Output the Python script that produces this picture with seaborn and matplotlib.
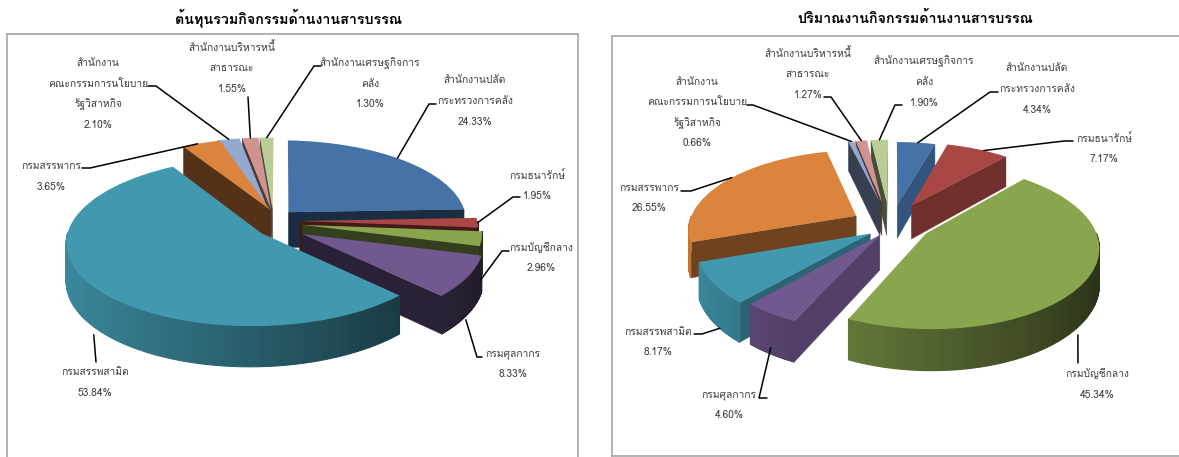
import numpy as np
import matplotlib
matplotlib.use("Agg")
import matplotlib.pyplot as plt
from matplotlib.transforms import Transform
import matplotlib.colors as mc
import seaborn as sns

# ---------- data ----------
categories = ["สำนักงานปลัด\nกระทรวงการคลัง", "กรมธนารักษ์", "กรมบัญชีกลาง", "กรมศุลกากร", "กรมสรรพสามิต",
              "กรมสรรพากร", "สำนักงาน\nคณะกรรมการนโยบาย\nรัฐวิสาหกิจ", "สำนักงานบริหารหนี้\nสาธารณะ",
              "สำนักงานเศรษฐกิจการ\nคลัง"]
cost_share = [24.33, 1.95, 2.96, 8.33, 53.84, 3.65, 2.10, 1.55, 1.30]
volume_share = [4.34, 7.17, 45.34, 4.60, 8.17, 26.55, 0.66, 1.27, 1.90]
titles = ["ต้นทุนรวมกิจกรรมด้านงานสารบรรณ", "ปริมาณงานกิจกรรมด้านงานสารบรรณ"]

# ---------- style / layout ----------
W, H = 1179, 457
sns.set_theme(style="white")
palette = sns.color_palette(["#4572A7", "#AA4643", "#89A54E", "#71588F", "#4198AF",
                             "#DB843D", "#93A9CF", "#D19392", "#B9CD96"])
plt.rcParams['font.family'] = ['Loma', 'Noto Sans Thai', 'DejaVu Sans']


class Ground(Transform):
    input_dims = output_dims = 2
    def __init__(self, cx, cy, R, sq, k, kx, depth, h=0.0):
        super().__init__()
        self.p = (cx, cy, R, sq, k, kx, depth)
        self.h = h
    def transform_non_affine(self, pts):
        cx, cy, R, sq, k, kx, depth = self.p
        pts = np.asarray(pts, float)
        s = 1 / (1 + k * pts[:, 1] + kx * pts[:, 0])
        return np.column_stack([cx + R * pts[:, 0] * s,
                                cy - R * sq * pts[:, 1] * s + depth * self.h * s])


def shade(c, f):
    return tuple(np.clip(np.array(mc.to_rgb(c)) * f, 0, 1))


def draw_panel(box, values, title, title_xy, geom, explode, nudge, labels_xy, leads):
    x0, y0, x1, y1 = box
    ax = fig.add_axes([x0 / W, 1 - y1 / H, (x1 - x0) / W, (y1 - y0) / H])
    wedges, _ = ax.pie(values, explode=explode, colors=palette, startangle=90, counterclock=False,
                       radius=1, frame=True, wedgeprops=dict(linewidth=0))
    ax.set_aspect('auto')
    ax.set_xlim(x0, x1)
    ax.set_ylim(y1, y0)
    ax.set_xticks([]); ax.set_yticks([])
    for s in ax.spines.values():
        s.set_visible(True); s.set_color("#a6a6a6"); s.set_linewidth(1.2)
    top = Ground(*geom, h=0)
    bot = Ground(*geom, h=1)
    for w, n in zip(wedges, nudge):
        w.set_center((w.center[0] + n[0], w.center[1] + n[1]))
    order = sorted(range(len(wedges)), key=lambda i: -(wedges[i].center[1] + np.sin(np.radians((wedges[i].theta1 + wedges[i].theta2) / 2)) * .5))
    for rank, i in enumerate(order):
        w = wedges[i]
        col = palette[i]
        z = 10 + rank * 3
        c = np.array(w.center)
        for th, sgn in ((w.theta1, -1), (w.theta2, 1)):
            na = np.radians(th + sgn * 90)
            nx, ny = np.cos(na), np.sin(na)
            if ny < 0:
                e = c + w.r * np.array([np.cos(np.radians(th)), np.sin(np.radians(th))])
                g = np.array([c, e])
                a, b = top.transform_non_affine(g), bot.transform_non_affine(g)
                poly = np.vstack([a, b[::-1]])
                ax.fill(poly[:, 0], poly[:, 1], color=shade(col, .38 + .38 * max(nx, 0)), lw=.3, zorder=z)
        ths = np.radians(np.linspace(w.theta1, w.theta2, 160))
        for t0, t1 in zip(ths[:-1], ths[1:]):
            tm = (t0 + t1) / 2
            if np.sin(tm) < 0:
                g = c + w.r * np.array([[np.cos(t0), np.sin(t0)], [np.cos(t1), np.sin(t1)]])
                a, b = top.transform_non_affine(g), bot.transform_non_affine(g)
                poly = np.vstack([a, b[::-1]])
                f = shade(col, .6 - .3 * np.cos(tm))
                ax.fill(poly[:, 0], poly[:, 1], facecolor=f, edgecolor=f, lw=.8, zorder=z + 1)
        w.set_transform(top + ax.transData)
        w.set_zorder(z + 2)
    for i, (lx, ly, dy) in enumerate(labels_xy):
        pct = f"{values[i]:.2f}%"
        lines = categories[i].split("\n") + [pct]
        for j, t in enumerate(lines):
            ax.text(lx, ly + j * dy, t, ha="center", va="center", fontsize=7.4, color="#3a3a3a", zorder=100)
    for i, (sx, ex, ey, frac, h) in enumerate(leads):
        w = wedges[i]
        th = np.radians(w.theta2 - frac * (w.theta2 - w.theta1))
        g = np.array([w.center]) + w.r * np.array([[np.cos(th), np.sin(th)]])
        p = Ground(*geom, h=h).transform_non_affine(g)[0]
        ax.plot([sx, ex, p[0]], [ey, ey, p[1]], color="black", lw=1.1, zorder=90, solid_joinstyle="miter")
    fig.text(title_xy[0] / W, 1 - title_xy[1] / H, title, ha="center", va="center",
             fontsize=10.3, fontweight="bold", color="black")
    return ax


fig = plt.figure(figsize=(W / 100, H / 100), dpi=100, facecolor="white")

left_labels = [(475, 80, 21), (537, 175, 21), (541, 247, 21), (513, 354, 20), (95, 372, 21),
               (51, 166, 21), (98, 63, 20.7), (232, 47, 21), (370, 63, 20.5)]
left_leads = [(436, 429, 104, .47, 0), (520, 513, 197, .5, 0), (509, 502, 251, .9, 1), (482, 477, 357, .55, 1.1),
              (96, 96, 362, .51, 1.2), (82, 90, 168, .4, 0), (148, 156, 86, .5, 0), (248, 248, 97, .5, 0), (321, 314, 66, .5, 0)]
right_labels = [(1037, 68, 21), (1104, 138, 21), (1097, 373, 22), (729, 395, 20), (658, 332, 20),
                (649, 188, 20), (697, 82, 20.5), (808, 53, 21), (924, 61, 21)]
right_leads = [(998, 990, 92, .55, 0), (1073, 1064, 141, .6, 0), (1078, 1078, 363, .53, 1.2), (767, 759, 398, .5, .85),
               (694, 702, 334, .35, 1.0), (681, 691, 191, .55, 0), (747, 753, 105, .5, 0), (824, 831, 97, .5, 0), (902, 895, 105, .5, 0)]

left_explode = [.05] * 9
left_nudge = [(-.005, .124), (.04, .05), (.056, .01), (.06, -.085), (-.075, -.07),
              (-.05, .145), (-.07, .147), (-.06, .15), (-.055, .15)]
right_explode = [.1, .15, .2, .2, .2, .2, .2, .2, .2]
right_nudge = [(0, .06), (.03, .02), (.015, -.1), (.02, -.06), (.02, -.1), (-.06, -.08), (-.05, 0), (-.05, 0), (-.04, 0)]

draw_panel((7, 34, 578, 465), cost_share, titles[0], (289, 18), (283, 225, 185, .44, .1, .03, 36),
           left_explode, left_nudge, left_labels, left_leads)
draw_panel((612, 36, 1190, 456), volume_share, titles[1], (915, 18), (895, 217, 165, .46, .15, 0, 34),
           right_explode, right_nudge, right_labels, right_leads)

fig.savefig("out.png", dpi=100)
